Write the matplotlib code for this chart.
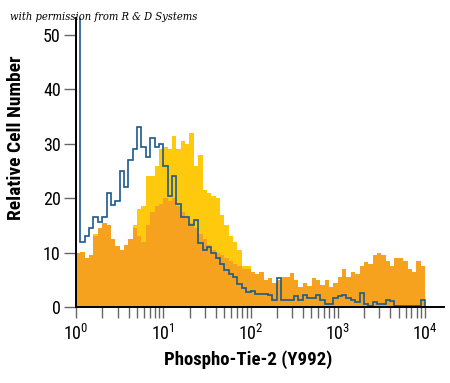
import numpy as np
import matplotlib
matplotlib.use("Agg")
import matplotlib.pyplot as plt
from matplotlib.ticker import FixedLocator, LogLocator, NullFormatter

plt.rcParams["font.family"] = ["Roboto Condensed", "DejaVu Sans"]
plt.rcParams["font.stretch"] = "condensed"
plt.rcParams["mathtext.fontset"] = "custom"
plt.rcParams["mathtext.rm"] = "Roboto Condensed"
plt.rcParams["mathtext.default"] = "regular"

# 80 log-spaced channels from 10^0 to 10^4 (0.05 decade each)
n_bins = 80

yellow = [9, 9, 8, 8.5, 13.5, 14.5, 15, 14.5, 12, 11,
          10, 11, 12, 15, 18, 18.5, 24, 24, 26, 29,
          29.5, 29, 31.5, 29, 30.5, 30, 32, 26, 28, 21.5,
          21, 20.5, 20, 17, 15, 13, 12, 10.5, 7.5, 7.5,
          6.5, 5.5, 6, 4.5, 5, 4, 4.5, 5, 5, 5.8,
          4.5, 3.2, 4, 3.3, 4.8, 4.5, 3.5, 4.5, 3.2, 4,
          5, 6.5, 5, 6, 5.5, 7, 7.8, 7.5, 9, 9.5,
          9, 8, 7, 8.5, 8.5, 8, 6.5, 6, 8, 7]

orange = [10, 10.2, 9, 9.5, 13, 14.5, 15.5, 15, 12.5, 11.3,
          10.5, 11.5, 12.5, 14.5, 13, 12, 15, 17.5, 18.5, 19,
          20, 19.5, 20, 18.5, 17.5, 16.5, 15.5, 14.5, 13.5, 12.5,
          11.5, 10.5, 10, 9.5, 9, 8.5, 8, 7.5, 7, 7,
          6.5, 6, 6.5, 5, 5.3, 4.4, 5, 5.5, 5.5, 6.3,
          5, 3.7, 4.4, 3.8, 5.3, 5, 4, 5, 3.7, 4.4,
          5.5, 7, 5.5, 6.4, 6, 7.6, 8.3, 8, 9.5, 10,
          9.5, 8.5, 7.6, 9, 9, 8.5, 7, 6.5, 8.5, 7.5]

blue = [60, 12, 13, 14.5, 16.5, 15.6, 16.5, 21, 18.7, 19.5,
        25, 22, 27, 29, 33, 29.5, 27.6, 31, 29.5, 30,
        26, 20.5, 24, 19, 16.5, 16.5, 15, 16, 11.8, 10.5,
        11, 10, 9, 8, 6.8, 6, 5.5, 4.2, 3.5, 2.8,
        3, 2.5, 2.5, 2.4, 2.2, 1.4, 5.3, 1.3, 1.3, 1.3,
        2, 1.3, 2.2, 1.6, 1.6, 2.2, 1.3, 0.6, 0.6, 1.6,
        2, 2.2, 1.6, 1.3, 1, 2.6, 0.6, 0.3, 1.0, 0.6,
        0.6, 1.3, 1.2, 0.2, 0.2, 0.2, 0.2, 0.2, 0.2, 1.3]

edges = np.logspace(0, 4, n_bins + 1)

fig = plt.figure(figsize=(4.5, 3.83), dpi=100)
ax = fig.add_axes([0.169, 0.198, 0.818, 0.755])

ax.stairs(yellow, edges, fill=True, color="#FFC90E", lw=0)
ax.stairs(orange, edges, fill=True, color="#F7A21E", lw=0)
ax.stairs(blue, edges, color="#1B5A8C", lw=1.2)

ax.set_xscale("log")
ax.set_xlim(1, 10 ** 4.22)
ax.set_ylim(0, 53.1)

ax.spines["top"].set_visible(False)
ax.spines["right"].set_visible(False)
ax.spines["left"].set_linewidth(1.4)
ax.spines["bottom"].set_linewidth(1.4)

ax.set_yticks([0, 10, 20, 30, 40, 50])
ax.xaxis.set_major_locator(FixedLocator([1, 10, 100, 1000, 10000]))
ax.xaxis.set_minor_locator(LogLocator(base=10, subs=np.arange(2, 10), numticks=20))
ax.xaxis.set_minor_formatter(NullFormatter())
ax.set_xticklabels(["10$^{0}$", "10$^{1}$", "10$^{2}$", "10$^{3}$", "10$^{4}$"])

ax.tick_params(axis="y", direction="out", length=9, width=1, labelsize=13, color="#666666", pad=2)
ax.tick_params(axis="x", which="major", direction="out", length=8, width=1, labelsize=13, color="#666666", pad=4)
ax.tick_params(axis="x", which="minor", direction="out", length=8, width=1, color="#666666")

ax.set_ylabel("Relative Cell Number", fontsize=14, fontweight="bold")
ax.yaxis.set_label_coords(-0.139, 0.585)
ax.set_xlabel("Phospho-Tie-2 (Y992)", fontsize=13.5, fontweight="bold")
ax.xaxis.set_label_coords(0.467, -0.15)

fig.text(0.022, 0.955, "with permission from R & D Systems", fontsize=8,
         family="DejaVu Serif", style="italic", stretch="condensed", va="center")

fig.savefig("out.png", dpi=100)
